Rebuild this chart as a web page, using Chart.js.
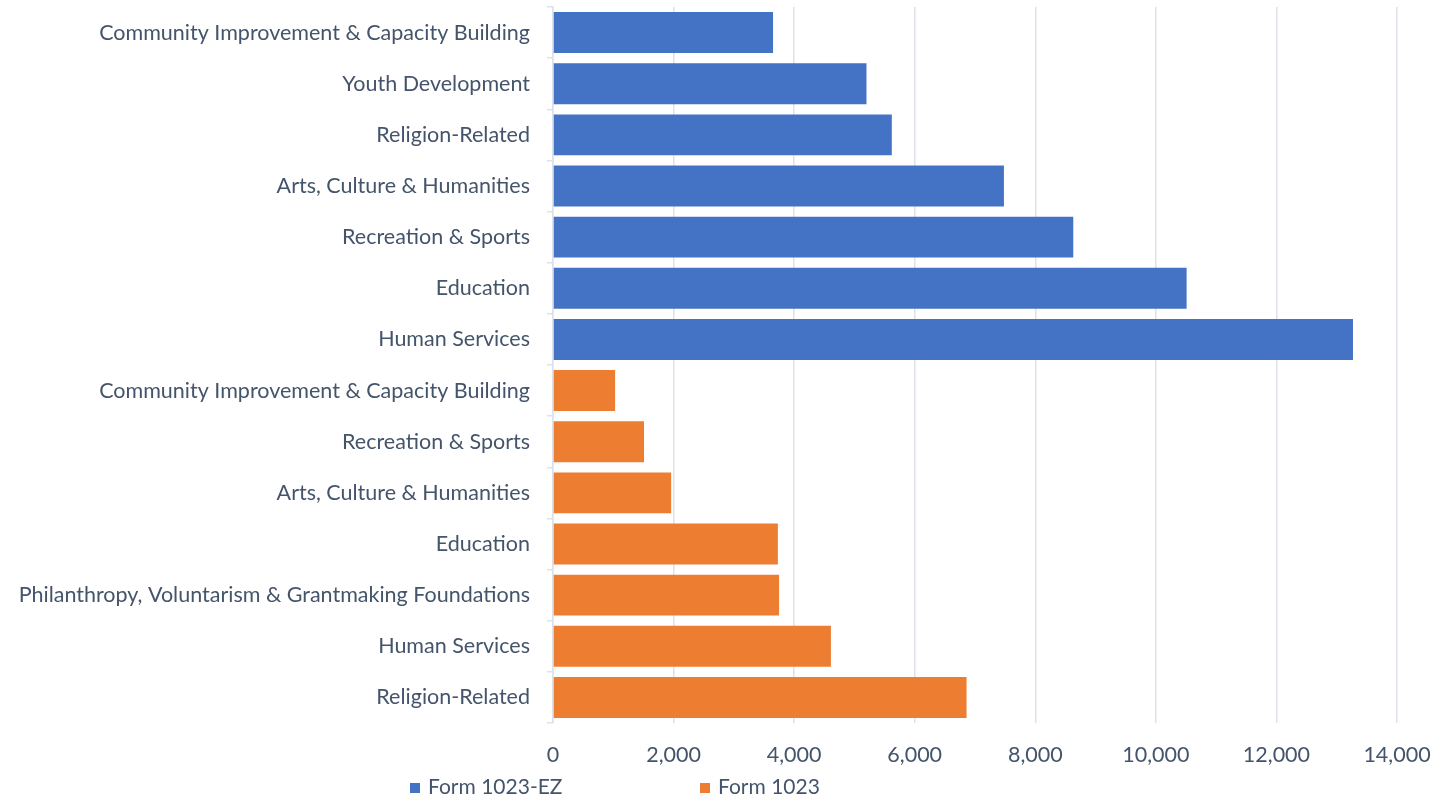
<!DOCTYPE html>
<html>
<head>
<meta charset="utf-8">
<script src="https://cdn.jsdelivr.net/npm/chart.js@4.4.0/dist/chart.umd.min.js"></script>
<style>
    html, body { margin: 0; padding: 0; background: #fff; }
    #wrap { position: relative; width: 1451px; height: 801px; }
    #legend { position: absolute; top: 773px; left: 0; font-family: Lato, sans-serif; font-size: 21px; color: #44546A; }
    .item { position: absolute; white-space: nowrap; }
    .item span { display: inline-block; width: 10px; height: 10px; margin-right: 8px; vertical-align: 1px; }
</style>
</head>
<body>
<div id="wrap">
    <canvas id="chart" width="1451" height="801"></canvas>
    <div id="legend">
        <div class="item" style="left:410px"><span style="background:#4472C4"></span>Form 1023-EZ</div>
        <div class="item" style="left:700px"><span style="background:#ED7D31"></span>Form 1023</div>
    </div>
</div>
<script>
// categories, top to bottom
var categories = [
    'Community Improvement & Capacity Building',
    'Youth Development',
    'Religion-Related',
    'Arts, Culture & Humanities',
    'Recreation & Sports',
    'Education',
    'Human Services',
    'Community Improvement & Capacity Building',
    'Recreation & Sports',
    'Arts, Culture & Humanities',
    'Education',
    'Philanthropy, Voluntarism & Grantmaking Foundations',
    'Human Services',
    'Religion-Related'
];

var form1023EZ = [3650, 5200, 5620, 7480, 8630, 10510, 13270, null, null, null, null, null, null, null];
var form1023 = [null, null, null, null, null, null, null, 1030, 1510, 1960, 3730, 3750, 4610, 6860];

var xTicks = [0, 2000, 4000, 6000, 8000, 10000, 12000, 14000];

var textColor = '#44546A';
var gridColor = '#DDE2EA';
var fontSize = 21.5;

const ctx = document.getElementById('chart').getContext('2d');
new Chart(ctx, {
    type: 'bar',
    data: {
        labels: categories,
        datasets: [
            { label: 'Form 1023-EZ', data: form1023EZ, backgroundColor: '#4472C4' },
            { label: 'Form 1023', data: form1023, backgroundColor: '#ED7D31' }
        ]
    },
    options: {
        indexAxis: 'y',
        responsive: false,
        animation: false,
        barPercentage: 0.8,
        categoryPercentage: 1.0,
        layout: { padding: { top: 7, right: 54, left: 0, bottom: 0 } },
        plugins: {
            legend: { display: false },
            tooltip: { enabled: false }
        },
        scales: {
            x: {
                stacked: true,
                min: 0,
                max: 14000,
                afterBuildTicks: function (scale) {
                    scale.ticks = xTicks.map(function (v) { return { value: v }; });
                },
                afterFit: function (scale) { scale.height = 78; },
                grid: { color: gridColor, lineWidth: 1.5, drawTicks: false },
                border: { display: false },
                ticks: {
                    padding: 19,
                    color: textColor,
                    font: { family: 'Lato', size: fontSize },
                    callback: function (v) { return v.toLocaleString('en-US'); }
                }
            },
            y: {
                stacked: true,
                afterFit: function (scale) {
                    scale.width = 553;
                    scale.paddingTop = 0;
                    scale.paddingBottom = 0;
                },
                grid: { drawOnChartArea: false, drawTicks: true, tickLength: 6, color: gridColor, lineWidth: 1.5 },
                border: { display: true, color: gridColor, width: 1.5 },
                ticks: {
                    padding: 17,
                    autoSkip: false,
                    color: textColor,
                    font: { family: 'Lato', size: fontSize }
                }
            }
        }
    }
});
</script>
</body>
</html>
